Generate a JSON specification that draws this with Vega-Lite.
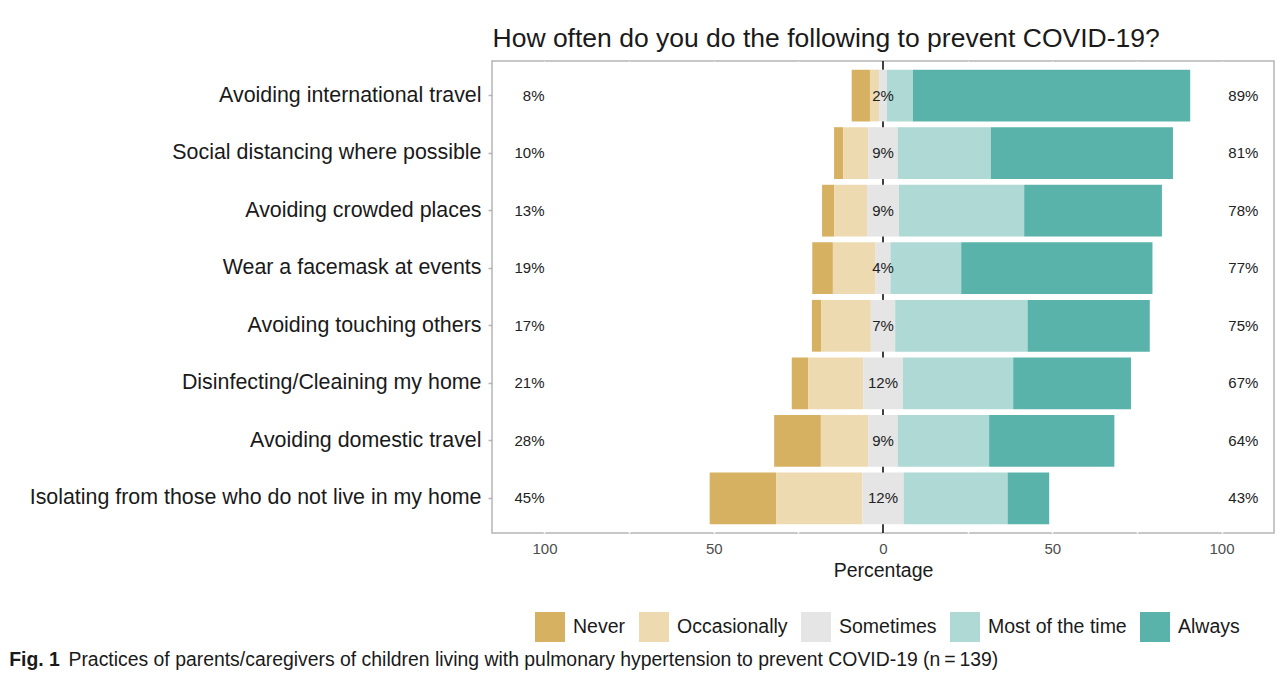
{
  "$schema": "https://vega.github.io/schema/vega-lite/v6.json",
  "width": 782,
  "height": 472,
  "autosize": {"type": "none"},
  "padding": {"left": 492, "top": 61, "right": 13, "bottom": 145},
  "background": "white",
  "config": {
    "font": "Liberation Sans",
    "view": {"stroke": "#b5b5b5", "strokeWidth": 1.5}
  },
  "title": {
    "text": "Fig. 1",
    "subtitle": "\u200b\u00a0\u00a0\u00a0\u00a0\u00a0\u00a0\u00a0\u00a0\u00a0\u00a0\u00a0Practices of parents/caregivers of children living with pulmonary hypertension to prevent COVID-19 (n\u2009=\u2009139)",
    "orient": "bottom",
    "anchor": "start",
    "frame": "bounds",
    "dx": -20,
    "offset": 9,
    "fontSize": 19.4,
    "fontWeight": "bold",
    "color": "#1a1a1a",
    "subtitleFontSize": 19.4,
    "subtitleColor": "#1a1a1a",
    "subtitlePadding": -19.4,
    "font": "Liberation Sans",
    "subtitleFont": "Liberation Sans"
  },
  "datasets": {
    "responses": [
      {"item": "Avoiding international travel", "response": "Never", "value": -5.4, "rank": 2},
      {"item": "Avoiding international travel", "response": "Occasionally", "value": -2.7, "rank": 1},
      {"item": "Avoiding international travel", "response": "Sometimes", "value": -1.15, "rank": 0},
      {"item": "Avoiding international travel", "response": "Sometimes", "value": 1.15, "rank": 0},
      {"item": "Avoiding international travel", "response": "Most of the time", "value": 7.7, "rank": 1},
      {"item": "Avoiding international travel", "response": "Always", "value": 81.9, "rank": 2},
      {"item": "Social distancing where possible", "response": "Never", "value": -2.7, "rank": 2},
      {"item": "Social distancing where possible", "response": "Occasionally", "value": -7.4, "rank": 1},
      {"item": "Social distancing where possible", "response": "Sometimes", "value": -4.35, "rank": 0},
      {"item": "Social distancing where possible", "response": "Sometimes", "value": 4.35, "rank": 0},
      {"item": "Social distancing where possible", "response": "Most of the time", "value": 27.5, "rank": 1},
      {"item": "Social distancing where possible", "response": "Always", "value": 53.8, "rank": 2},
      {"item": "Avoiding crowded places", "response": "Never", "value": -3.6, "rank": 2},
      {"item": "Avoiding crowded places", "response": "Occasionally", "value": -9.7, "rank": 1},
      {"item": "Avoiding crowded places", "response": "Sometimes", "value": -4.7, "rank": 0},
      {"item": "Avoiding crowded places", "response": "Sometimes", "value": 4.7, "rank": 0},
      {"item": "Avoiding crowded places", "response": "Most of the time", "value": 37.0, "rank": 1},
      {"item": "Avoiding crowded places", "response": "Always", "value": 40.7, "rank": 2},
      {"item": "Wear a facemask at events", "response": "Never", "value": -6.1, "rank": 2},
      {"item": "Wear a facemask at events", "response": "Occasionally", "value": -12.6, "rank": 1},
      {"item": "Wear a facemask at events", "response": "Sometimes", "value": -2.2, "rank": 0},
      {"item": "Wear a facemask at events", "response": "Sometimes", "value": 2.2, "rank": 0},
      {"item": "Wear a facemask at events", "response": "Most of the time", "value": 20.9, "rank": 1},
      {"item": "Wear a facemask at events", "response": "Always", "value": 56.5, "rank": 2},
      {"item": "Avoiding touching others", "response": "Never", "value": -2.8, "rank": 2},
      {"item": "Avoiding touching others", "response": "Occasionally", "value": -14.6, "rank": 1},
      {"item": "Avoiding touching others", "response": "Sometimes", "value": -3.6, "rank": 0},
      {"item": "Avoiding touching others", "response": "Sometimes", "value": 3.6, "rank": 0},
      {"item": "Avoiding touching others", "response": "Most of the time", "value": 39.1, "rank": 1},
      {"item": "Avoiding touching others", "response": "Always", "value": 36.1, "rank": 2},
      {"item": "Disinfecting/Cleaining my home", "response": "Never", "value": -4.9, "rank": 2},
      {"item": "Disinfecting/Cleaining my home", "response": "Occasionally", "value": -16.2, "rank": 1},
      {"item": "Disinfecting/Cleaining my home", "response": "Sometimes", "value": -5.85, "rank": 0},
      {"item": "Disinfecting/Cleaining my home", "response": "Sometimes", "value": 5.85, "rank": 0},
      {"item": "Disinfecting/Cleaining my home", "response": "Most of the time", "value": 32.6, "rank": 1},
      {"item": "Disinfecting/Cleaining my home", "response": "Always", "value": 34.8, "rank": 2},
      {"item": "Avoiding domestic travel", "response": "Never", "value": -13.8, "rank": 2},
      {"item": "Avoiding domestic travel", "response": "Occasionally", "value": -14.0, "rank": 1},
      {"item": "Avoiding domestic travel", "response": "Sometimes", "value": -4.35, "rank": 0},
      {"item": "Avoiding domestic travel", "response": "Sometimes", "value": 4.35, "rank": 0},
      {"item": "Avoiding domestic travel", "response": "Most of the time", "value": 27.0, "rank": 1},
      {"item": "Avoiding domestic travel", "response": "Always", "value": 37.0, "rank": 2},
      {"item": "Isolating from those who do not live in my home", "response": "Never", "value": -19.7, "rank": 2},
      {"item": "Isolating from those who do not live in my home", "response": "Occasionally", "value": -25.4, "rank": 1},
      {"item": "Isolating from those who do not live in my home", "response": "Sometimes", "value": -6.1, "rank": 0},
      {"item": "Isolating from those who do not live in my home", "response": "Sometimes", "value": 6.1, "rank": 0},
      {"item": "Isolating from those who do not live in my home", "response": "Most of the time", "value": 30.7, "rank": 1},
      {"item": "Isolating from those who do not live in my home", "response": "Always", "value": 12.3, "rank": 2}
    ],
    "summary": [
      {"item": "Avoiding international travel", "low": 0.08, "neutral": 0.02, "high": 0.89},
      {"item": "Social distancing where possible", "low": 0.10, "neutral": 0.09, "high": 0.81},
      {"item": "Avoiding crowded places", "low": 0.13, "neutral": 0.09, "high": 0.78},
      {"item": "Wear a facemask at events", "low": 0.19, "neutral": 0.04, "high": 0.77},
      {"item": "Avoiding touching others", "low": 0.17, "neutral": 0.07, "high": 0.75},
      {"item": "Disinfecting/Cleaining my home", "low": 0.21, "neutral": 0.12, "high": 0.67},
      {"item": "Avoiding domestic travel", "low": 0.28, "neutral": 0.09, "high": 0.64},
      {"item": "Isolating from those who do not live in my home", "low": 0.45, "neutral": 0.12, "high": 0.43}
    ]
  },
  "resolve": {"axis": {"x": "independent"}},
  "layer": [
    {
      "data": {"values": [{}]},
      "mark": {"type": "rule", "color": "#000000", "strokeWidth": 1.5},
      "encoding": {
        "x": {
          "datum": 0,
          "type": "quantitative",
          "scale": {"domain": [-115.5, 115.5], "nice": false, "zero": false},
          "axis": {
            "orient": "top",
            "title": "How often do you do the following to prevent COVID-19?",
            "titleAnchor": "start",
            "titleAlign": "left",
            "titleFontSize": 26.5,
            "titleFontWeight": "normal",
            "titleColor": "#1a1a1a",
            "titlePadding": 9,
            "labels": false,
            "ticks": false,
            "domain": false,
            "grid": false
          }
        }
      }
    },
    {
      "data": {"name": "responses"},
      "mark": {"type": "bar"},
      "encoding": {
        "y": {
          "field": "item",
          "type": "nominal",
          "sort": ["Avoiding international travel", "Social distancing where possible", "Avoiding crowded places", "Wear a facemask at events", "Avoiding touching others", "Disinfecting/Cleaining my home", "Avoiding domestic travel", "Isolating from those who do not live in my home"],
          "scale": {"paddingInner": 0.1, "paddingOuter": 0.15},
          "axis": {
            "title": null,
            "labelFontSize": 21.4,
            "labelColor": "#1a1a1a",
            "labelLimit": 600,
            "tickColor": "#b5b5b5",
            "tickSize": 4,
            "tickWidth": 1.5,
            "labelPadding": 7,
            "domain": false,
            "grid": false
          }
        },
        "x": {
          "field": "value",
          "type": "quantitative",
          "stack": "zero",
          "scale": {"domain": [-115.5, 115.5], "nice": false, "zero": false},
          "axis": {
            "orient": "bottom",
            "values": [-100, -75, -50, -25, 0, 25, 50, 75, 100],
            "labelExpr": "datum.value % 50 == 0 ? format(abs(datum.value), 'd') : ''",
            "grid": true,
            "gridColor": "#ffffff",
            "gridWidth": 1.5,
            "ticks": false,
            "domain": false,
            "labelFontSize": 15,
            "labelColor": "#4d4d4d",
            "labelPadding": 8,
            "title": "Percentage",
            "titleFontSize": 19.5,
            "titleFontWeight": "normal",
            "titleColor": "#1a1a1a",
            "titlePadding": 5
          }
        },
        "color": {
          "field": "response",
          "type": "nominal",
          "scale": {
            "domain": ["Never", "Occasionally", "Sometimes", "Most of the time", "Always"],
            "range": ["#D6B161", "#EDDAB0", "#E5E5E5", "#AED9D4", "#5AB3AA"]
          },
          "legend": {
            "orient": "none",
            "legendX": 43,
            "legendY": 551,
            "direction": "horizontal",
            "title": null,
            "symbolType": "square",
            "symbolSize": 900,
            "symbolStrokeWidth": 0,
            "symbolOpacity": 1,
            "labelFontSize": 19.5,
            "labelColor": "#1a1a1a",
            "labelOffset": 8,
            "columnPadding": 13,
            "padding": 0,
            "labelLimit": 400
          }
        },
        "order": {"field": "rank", "type": "quantitative"}
      }
    },
    {
      "data": {"name": "summary"},
      "mark": {"type": "text", "align": "right", "fontSize": 15, "color": "#222222"},
      "encoding": {
        "y": {
          "field": "item",
          "type": "nominal",
          "sort": ["Avoiding international travel", "Social distancing where possible", "Avoiding crowded places", "Wear a facemask at events", "Avoiding touching others", "Disinfecting/Cleaining my home", "Avoiding domestic travel", "Isolating from those who do not live in my home"],
          "axis": {
            "title": null,
            "labelFontSize": 21.4,
            "labelColor": "#1a1a1a",
            "labelLimit": 600,
            "tickColor": "#b5b5b5",
            "tickSize": 4,
            "tickWidth": 1.5,
            "labelPadding": 7,
            "domain": false,
            "grid": false
          }
        },
        "x": {"datum": -100, "type": "quantitative", "axis": null},
        "text": {"field": "low", "type": "quantitative", "format": ".0%"}
      }
    },
    {
      "data": {"name": "summary"},
      "mark": {"type": "text", "align": "center", "fontSize": 15, "color": "#222222"},
      "encoding": {
        "y": {
          "field": "item",
          "type": "nominal",
          "sort": ["Avoiding international travel", "Social distancing where possible", "Avoiding crowded places", "Wear a facemask at events", "Avoiding touching others", "Disinfecting/Cleaining my home", "Avoiding domestic travel", "Isolating from those who do not live in my home"],
          "axis": {
            "title": null,
            "labelFontSize": 21.4,
            "labelColor": "#1a1a1a",
            "labelLimit": 600,
            "tickColor": "#b5b5b5",
            "tickSize": 4,
            "tickWidth": 1.5,
            "labelPadding": 7,
            "domain": false,
            "grid": false
          }
        },
        "x": {"datum": 0, "type": "quantitative", "axis": null},
        "text": {"field": "neutral", "type": "quantitative", "format": ".0%"}
      }
    },
    {
      "data": {"name": "summary"},
      "mark": {"type": "text", "align": "left", "fontSize": 15, "color": "#222222"},
      "encoding": {
        "y": {
          "field": "item",
          "type": "nominal",
          "sort": ["Avoiding international travel", "Social distancing where possible", "Avoiding crowded places", "Wear a facemask at events", "Avoiding touching others", "Disinfecting/Cleaining my home", "Avoiding domestic travel", "Isolating from those who do not live in my home"],
          "axis": {
            "title": null,
            "labelFontSize": 21.4,
            "labelColor": "#1a1a1a",
            "labelLimit": 600,
            "tickColor": "#b5b5b5",
            "tickSize": 4,
            "tickWidth": 1.5,
            "labelPadding": 7,
            "domain": false,
            "grid": false
          }
        },
        "x": {"datum": 102, "type": "quantitative", "axis": null},
        "text": {"field": "high", "type": "quantitative", "format": ".0%"}
      }
    }
  ]
}
